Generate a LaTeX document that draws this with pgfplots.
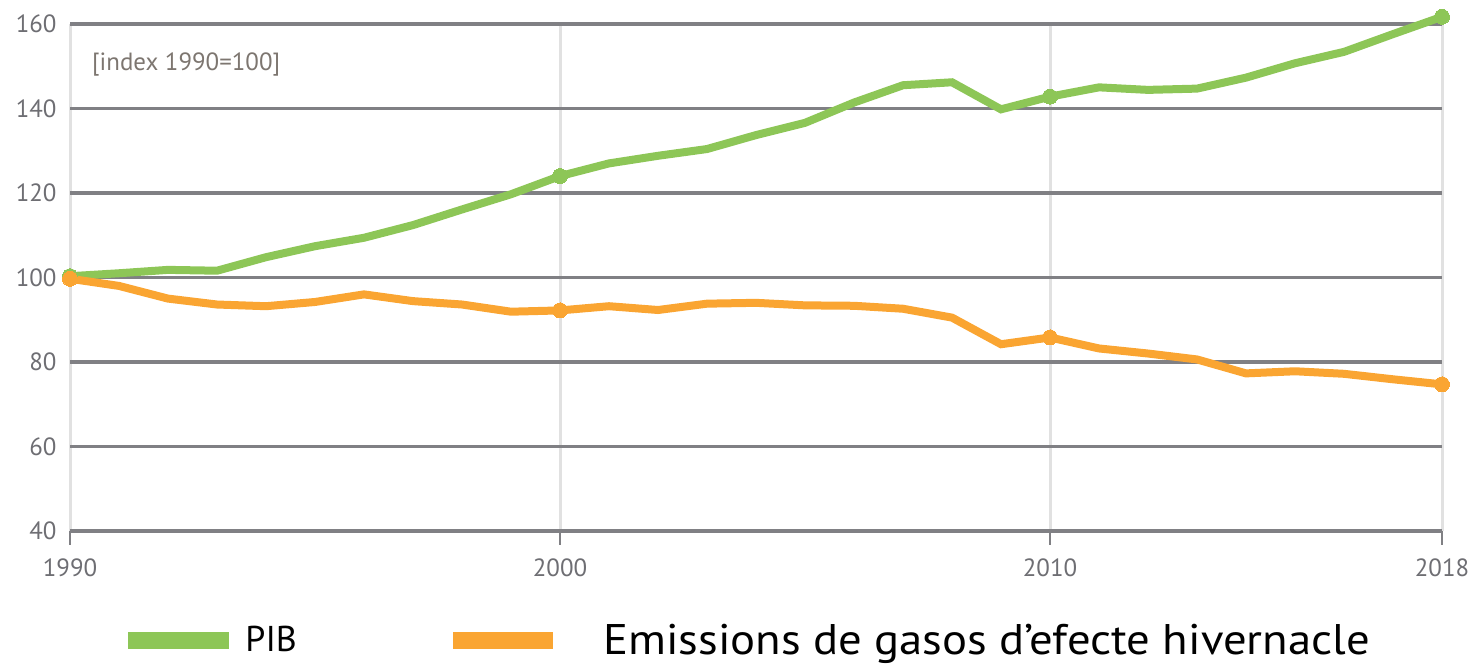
\documentclass[border=0pt]{standalone}
\usepackage{fontspec}
\setmainfont{PT Sans}
\usepackage{graphicx}
\usepackage{pgfplots}
\pgfplotsset{compat=1.18}
\definecolor{pib}{RGB}{141,198,87}
\definecolor{ems}{RGB}{250,165,50}
\definecolor{gridd}{RGB}{128,128,132}
\definecolor{gridl}{RGB}{225,225,225}
\definecolor{ticktxt}{RGB}{110,110,115}
\definecolor{notetxt}{RGB}{125,118,112}
\begin{document}
\begin{tikzpicture}
\begin{axis}[
  scale only axis, width=1372bp, height=507bp,
  xmin=1990, xmax=2018, ymin=40, ymax=160,
  xtick={1990,2000,2010,2018}, ytick={40,60,...,160},
  axis line style={draw=none},
  xmajorgrids, ymajorgrids,
  x grid style={draw=gridl, line width=3bp},
  y grid style={draw=gridd, line width=3.5bp},
  tick pos=left,
  tick align=outside, major tick length=14bp,
  xtick style={draw=gridd, line width=2.5bp},
  ytick style={draw=none},
  tick label style={font=\fontsize{25}{30}\selectfont, text=ticktxt},
  /pgf/number format/assume math mode=true,
  xticklabel style={/pgf/number format/1000 sep={}, yshift=-10bp},
  yticklabel style={xshift=4bp},
  clip=false,
  legend style={draw=none, fill=none, at={(axis description cs:0.04,-0.215)}, anchor=west,
    legend columns=2, /tikz/every even column/.append style={column sep=156bp},
    nodes={inner sep=0pt}},
  legend cell align=left,
]
\addlegendimage{legend image code/.code={\fill[pib] (0bp,-8bp) rectangle (100bp,8bp);}}
\addlegendentry{\hspace{17bp}\fontsize{36}{40}\selectfont PIB}
\addlegendimage{legend image code/.code={\fill[ems] (0bp,-8bp) rectangle (99bp,8bp);}}
\addlegendentry{\hspace{51bp}\fontsize{43}{48}\selectfont\scalebox{1.09}[1]{Emissions de gasos d’efecte hivernacle}}

\addplot[pib, line width=8bp, mark=*, mark size=7.5bp, mark indices={1,11,21,29}, mark options={fill=pib, draw=pib, line width=0pt}, forget plot]
coordinates {
(1990,100.3) (1991,101.0) (1992,101.8) (1993,101.6) (1994,104.8) (1995,107.4)
(1996,109.4) (1997,112.4) (1998,116.1) (1999,119.7) (2000,124.0) (2001,127.0)
(2002,128.8) (2003,130.4) (2004,133.7) (2005,136.6) (2006,141.4) (2007,145.5)
(2008,146.2) (2009,139.8) (2010,142.8) (2011,145.0) (2012,144.4) (2013,144.7)
(2014,147.3) (2015,150.7) (2016,153.4) (2017,157.6) (2018,161.7)
};
\addplot[ems, line width=8bp, mark=*, mark size=7.5bp, mark indices={1,11,21,29}, mark options={fill=ems, draw=ems, line width=0pt}, forget plot]
coordinates {
(1990,99.7) (1991,98.0) (1992,95.0) (1993,93.6) (1994,93.2) (1995,94.2)
(1996,96.0) (1997,94.4) (1998,93.6) (1999,91.9) (2000,92.2) (2001,93.2)
(2002,92.3) (2003,93.8) (2004,94.0) (2005,93.4) (2006,93.3) (2007,92.6)
(2008,90.5) (2009,84.2) (2010,85.8) (2011,83.2) (2012,82.0) (2013,80.6)
(2014,77.3) (2015,77.8) (2016,77.2) (2017,75.9) (2018,74.7)
};
\node[anchor=west, inner sep=0pt, text=notetxt, font=\fontsize{25}{30}\selectfont]
  at (axis description cs:0.016,0.921) {[index 1990=100]};
\coordinate (bbl) at (axis description cs:-0.05102,-0.2663);
\coordinate (bbr) at (axis description cs:1.02405,1.0473);
\end{axis}
\pgfresetboundingbox
\path (bbl) rectangle (bbr);
\end{tikzpicture}
\end{document}
